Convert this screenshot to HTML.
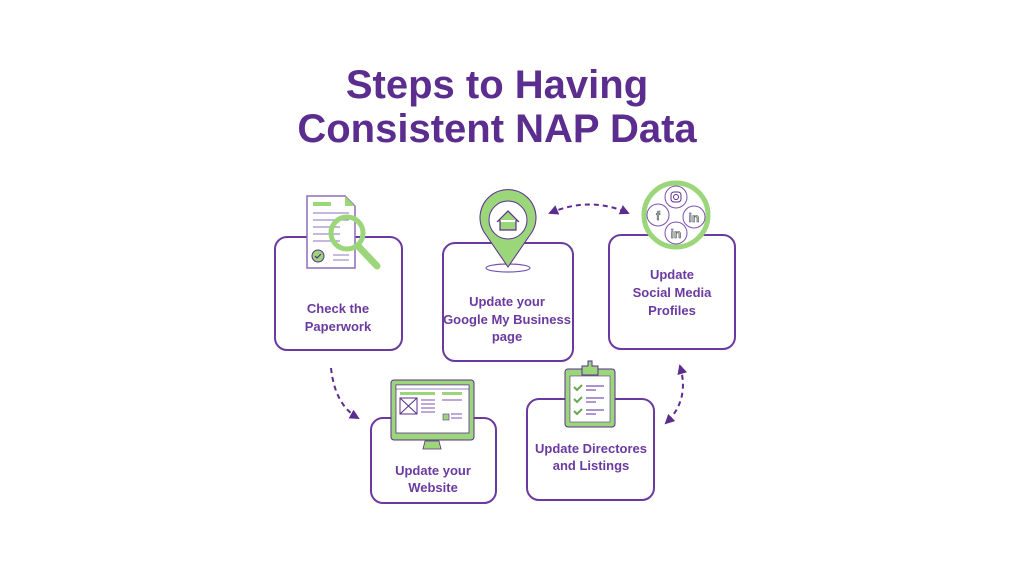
<!DOCTYPE html>
<html><head><style>body{margin:0;background:#fff}svg{display:block}</style></head><body>
<svg width="1024" height="576" viewBox="0 0 1024 576" xmlns="http://www.w3.org/2000/svg" font-family="Liberation Sans, sans-serif">
<defs><marker id="ah" viewBox="0 0 10 10" refX="8" refY="5" markerWidth="5" markerHeight="5" orient="auto-start-reverse"><path d="M0,0L10,5L0,10z" fill="#5b2d8e"/></marker></defs>
<g fill="#5b2d8e" font-weight="bold" text-anchor="middle">
<text x="497" y="98" font-size="40">Steps to Having</text>
<text x="497" y="142" font-size="40">Consistent NAP Data</text>
</g>
<g fill="#fff" stroke="#6a3aa0" stroke-width="2">
<rect x="275" y="237" width="127" height="113" rx="12"/>
<rect x="443" y="243" width="130" height="118" rx="12"/>
<rect x="609" y="235" width="126" height="114" rx="12"/>
<rect x="371" y="418" width="125" height="85" rx="12"/>
<rect x="527" y="399" width="127" height="101" rx="12"/>
</g>
<g fill="#6a3aa0" font-weight="bold" font-size="13" text-anchor="middle">
<text x="338" y="313">Check the</text><text x="338" y="331">Paperwork</text>
<text x="507" y="306">Update your</text><text x="507" y="324">Google My Business</text><text x="507" y="341">page</text>
<text x="672" y="279">Update</text><text x="672" y="297">Social Media</text><text x="672" y="315">Profiles</text>
<text x="433" y="475">Update your</text><text x="433" y="492">Website</text>
<text x="591" y="453">Update Directores</text><text x="591" y="470">and Listings</text>
</g>
<g fill="none" stroke="#5b2d8e" stroke-width="2" stroke-dasharray="5,4">
<path d="M331,368 Q335,405 358,418" marker-end="url(#ah)"/>
<path d="M550,213 Q590,196 628,213" marker-end="url(#ah)" marker-start="url(#ah)"/>
<path d="M680,366 Q690,400 666,423" marker-end="url(#ah)" marker-start="url(#ah)"/>
</g>
<!-- document -->
<path d="M307,196 H345 L355,206 V268 H307Z" fill="#fff" stroke="#8e6bbb" stroke-width="1.5"/>
<path d="M345,196 V206 H355Z" fill="#9bd67a"/>
<rect x="313" y="202" width="18" height="4" fill="#9bd67a"/>
<g stroke="#a58cc9" stroke-width="1.2"><line x1="313" y1="213" x2="349" y2="213"/><line x1="313" y1="220" x2="349" y2="220"/><line x1="313" y1="227" x2="340" y2="227"/><line x1="313" y1="234" x2="340" y2="234"/><line x1="313" y1="241" x2="340" y2="241"/><line x1="333" y1="255" x2="349" y2="255"/><line x1="333" y1="260" x2="349" y2="260"/></g>
<circle cx="318" cy="256" r="6" fill="#9bd67a" stroke="#5b2d8e" stroke-width="1"/>
<path d="M315,256l2,2 4,-4" fill="none" stroke="#5b2d8e" stroke-width="1.2"/>
<line x1="358" y1="246" x2="377" y2="266" stroke="#9bd67a" stroke-width="7" stroke-linecap="round"/>
<circle cx="347" cy="233" r="16" fill="none" stroke="#9bd67a" stroke-width="5"/>
<!-- pin -->
<ellipse cx="508" cy="268" rx="22" ry="4" fill="#fff" stroke="#7b52b0" stroke-width="1.2"/>
<path d="M508,267 L484,232 A28,28 0 1 1 532,232 Z" fill="#9bd67a" stroke="#5b2d8e" stroke-width="1"/>
<circle cx="508" cy="220" r="19" fill="#fff" stroke="#5b2d8e" stroke-width="1"/>
<path d="M497,222 L508,211 L519,222 M500,220 V230 H516 V220" fill="#9bd67a" stroke="#5b2d8e" stroke-width="1.2"/>
<!-- social -->
<circle cx="676" cy="215" r="32" fill="#fff" stroke="#9bd67a" stroke-width="5"/>
<g fill="#fff" stroke="#7b52b0" stroke-width="1"><circle cx="676" cy="197" r="11"/><circle cx="658" cy="215" r="11"/><circle cx="694" cy="217" r="11"/><circle cx="676" cy="233" r="11"/></g>
<rect x="671" y="192" width="10" height="10" rx="3" fill="none" stroke="#5b2d8e"/><circle cx="676" cy="197" r="2.5" fill="none" stroke="#5b2d8e"/>
<g font-size="12" font-weight="bold" fill="#9bd67a" stroke="#5b2d8e" stroke-width=".5" text-anchor="middle"><text x="658" y="220">f</text><text x="694" y="222">in</text><text x="676" y="238">in</text></g>
<!-- monitor -->
<rect x="391" y="380" width="83" height="60" rx="3" fill="#9bd67a" stroke="#5b2d8e" stroke-width="1"/>
<rect x="396" y="385" width="73" height="48" fill="#fff" stroke="#5b2d8e" stroke-width=".8"/>
<rect x="396" y="385" width="73" height="4" fill="#fff" stroke="#5b2d8e" stroke-width=".6"/>
<rect x="400" y="392" width="35" height="3" fill="#9bd67a"/><rect x="442" y="392" width="20" height="3" fill="#9bd67a"/>
<rect x="400" y="398" width="17" height="16" fill="none" stroke="#5b2d8e"/><path d="M400,398L417,414M417,398L400,414" stroke="#5b2d8e"/>
<g stroke="#7b52b0" stroke-width="1"><line x1="421" y1="400" x2="435" y2="400"/><line x1="421" y1="404" x2="435" y2="404"/><line x1="421" y1="408" x2="435" y2="408"/><line x1="421" y1="412" x2="435" y2="412"/><line x1="442" y1="400" x2="462" y2="400"/><line x1="451" y1="414" x2="462" y2="414"/><line x1="451" y1="418" x2="462" y2="418"/></g>
<rect x="443" y="414" width="6" height="6" fill="#9bd67a" stroke="#5b2d8e" stroke-width=".6"/>
<path d="M425,441 h14 l2,8 h-18z" fill="#9bd67a" stroke="#5b2d8e" stroke-width=".8"/>
<!-- clipboard -->
<rect x="565" y="369" width="50" height="58" rx="3" fill="#9bd67a" stroke="#5b2d8e" stroke-width="1"/>
<rect x="570" y="376" width="40" height="46" fill="#fff" stroke="#5b2d8e" stroke-width=".6"/>
<path d="M582,370 V366 H588 V361 H592 V366 H598 V370 V375 H582Z" fill="#9bd67a" stroke="#5b2d8e" stroke-width="1"/>
<g stroke="#7b52b0" stroke-width="1.2" fill="none"><path d="M574,387l3,3 5,-5M574,399l3,3 5,-5M574,411l3,3 5,-5" stroke="#6aa84f" stroke-width="2"/><line x1="586" y1="386" x2="604" y2="386"/><line x1="586" y1="390" x2="596" y2="390"/><line x1="586" y1="398" x2="604" y2="398"/><line x1="586" y1="402" x2="596" y2="402"/><line x1="586" y1="410" x2="604" y2="410"/><line x1="586" y1="414" x2="596" y2="414"/></g>
</svg>
</body></html>
